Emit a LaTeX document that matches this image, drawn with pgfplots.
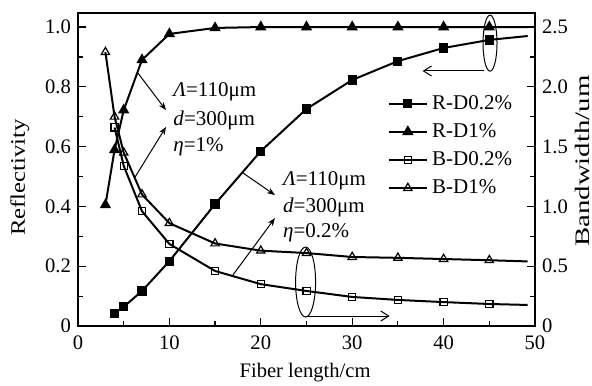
\documentclass[border=0pt]{standalone}
\usepackage{fontspec}
\setmainfont{Liberation Serif}
\usepackage{graphicx}
\usepackage{pgfplots}
\pgfplotsset{compat=1.18}
\usetikzlibrary{arrows.meta}

\pgfplotstableread{
x   rd02
4   0.043
5   0.064
7   0.117
10  0.217
15  0.408
20  0.585
25  0.726
30  0.823
35  0.886
40  0.930
45  0.957
49.2 0.970
}\RDa
\pgfplotstableread{
x   rd1
3   0.405
4   0.589
5   0.722
7   0.890
10  0.977
15  0.997
20  1.000
25  1.000
30  1.000
35  1.000
40  1.000
45  1.000
49.2 1.000
}\RDb
\pgfplotstableread{
x   bd02
4   1.66
5   1.34
7   0.96
10  0.686
15  0.46
20  0.35
25  0.293
30  0.243
35  0.218
40  0.20
45  0.184
49.2 0.176
}\BDa
\pgfplotstableread{
x   bd1
3   2.29
4   1.75
5   1.45
7   1.10
10  0.86
15  0.69
20  0.63
25  0.61
30  0.577
35  0.57
40  0.56
45  0.55
49.2 0.54
}\BDb

\pgfplotsset{
  common/.style={
    scale only axis, width=228.5pt, height=156.5pt,
    xmin=0, xmax=50,
    tick align=inside,
    major tick length=4pt, minor tick length=2.5pt,
    axis line style={line width=0.8pt},
    every tick/.style={line width=0.6pt, black},
    /pgf/number format/assume math mode=true,
    tick label style={font=\fontsize{10.3}{12}\selectfont},
    label style={font=\fontsize{10.3}{12}\selectfont},
  },
}

\begin{document}
\begin{tikzpicture}
\useasboundingbox (-39pt,-29.5pt) rectangle (257pt,163pt);
\begin{axis}[
  common,
  ymin=0, ymax=1.047,
  xtick={0,10,20,30,40,50}, minor xtick={5,15,25,35,45},
  ytick={0,0.2,0.4,0.6,0.8,1.0}, yticklabels={0,0.2,0.4,0.6,0.8,1.0},
  minor ytick={0.1,0.3,0.5,0.7,0.9},
  xtick pos=bottom, ytick pos=left,
  xticklabel style={yshift=-1.5pt},
  xlabel={Fiber length/cm}, ylabel={\scalebox{1.2}[1]{Reflectivity}},
  xlabel style={at={(axis description cs:0.497,-0.150)}, anchor=center},
  ylabel style={at={(axis description cs:-0.127,0.474)}, anchor=center},
]
\addplot[black, line width=1pt, mark=square*, mark size=1.8pt, mark indices={1,...,11}] table[x=x,y=rd02] {\RDa};
\addplot[black, line width=1pt, mark=triangle*, mark size=2.3pt, mark indices={1,...,12}] table[x=x,y=rd1] {\RDb};

% annotations
\draw[line width=0.5pt] (axis cs:45.08,0.946) ellipse [x radius=3.5pt, y radius=14pt];
\draw[line width=0.5pt, -{Straight Barb[length=4pt,width=5pt]}] (axis cs:44.4,0.853) -- (axis cs:37.7,0.853);
\draw[line width=0.5pt] (axis cs:24.9,0.147) ellipse [x radius=5pt, y radius=17.5pt];
\draw[line width=0.5pt, -{Straight Barb[length=4pt,width=5pt]}] (axis cs:24.9,0.0334) -- (axis cs:34.1,0.0334);

\draw[line width=0.5pt, -{Stealth[length=4pt,width=3pt]}] (axis cs:6.56,0.846) -- (axis cs:9.63,0.722);
\draw[line width=0.5pt, -{Stealth[length=4pt,width=3pt]}] (axis cs:6.24,0.498) -- (axis cs:9.63,0.666);
\draw[line width=0.5pt, -{Stealth[length=4pt,width=3pt]}] (axis cs:18.05,0.512) -- (axis cs:21.55,0.438);
\draw[line width=0.5pt, -{Stealth[length=4pt,width=3pt]}] (axis cs:16.96,0.171) -- (axis cs:21.55,0.361);

\begin{scope}[every node/.style={font=\fontsize{10.5}{12}\selectfont, anchor=west, inner sep=0pt}]
\node at (axis cs:10.4,0.783) {\textit{Λ}=110μm};
\node at (axis cs:10.4,0.689) {\textit{d}=300μm};
\node at (axis cs:10.4,0.599) {\textit{η}=1\%};
\node at (axis cs:22.4,0.485) {\textit{Λ}=110μm};
\node at (axis cs:22.4,0.398) {\textit{d}=300μm};
\node at (axis cs:22.4,0.311) {\textit{η}=0.2\%};
\end{scope}
\end{axis}

\begin{axis}[
  common,
  ymin=0, ymax=2.6175,
  axis x line=none,
  axis y line*=right,
  ytick={0,0.5,1.0,1.5,2.0,2.5}, yticklabels={0,0.5,1.0,1.5,2.0,2.5},
  minor ytick={0.25,0.75,1.25,1.75,2.25},
  ylabel={\scalebox{1.4}[1]{Bandwidth/um}},
  ylabel style={at={(axis description cs:1.103,0.527)}, anchor=center, rotate=0},
  legend style={at={(rel axis cs:0.672,0.758)}, anchor=north west, draw=none, fill=none,
    font=\fontsize{10.5}{12}\selectfont, row sep=1.6pt, inner sep=1pt},
  legend cell align=left,
  legend image code/.code={\draw[#1] (0cm,0cm) -- (0.68cm,0cm); \draw[#1, mark repeat=1, only marks] plot coordinates {(0.34cm,0cm)};},
]
\addlegendimage{black, line width=1pt, mark=square*, mark size=1.8pt}
\addlegendentry{R-D0.2\%}
\addlegendimage{black, line width=1pt, mark=triangle*, mark size=2.3pt}
\addlegendentry{R-D1\%}
\addplot[black, line width=1pt, mark=square, mark size=1.8pt, mark options={fill=white, line width=0.6pt}, mark indices={1,...,11}] table[x=x,y=bd02] {\BDa};
\addlegendentry{B-D0.2\%}
\addplot[black, line width=1pt, mark=triangle, mark size=2.4pt, mark options={fill=white, line width=0.6pt}, mark indices={1,...,12}] table[x=x,y=bd1] {\BDb};
\addlegendentry{B-D1\%}
\end{axis}
\end{tikzpicture}
\end{document}
